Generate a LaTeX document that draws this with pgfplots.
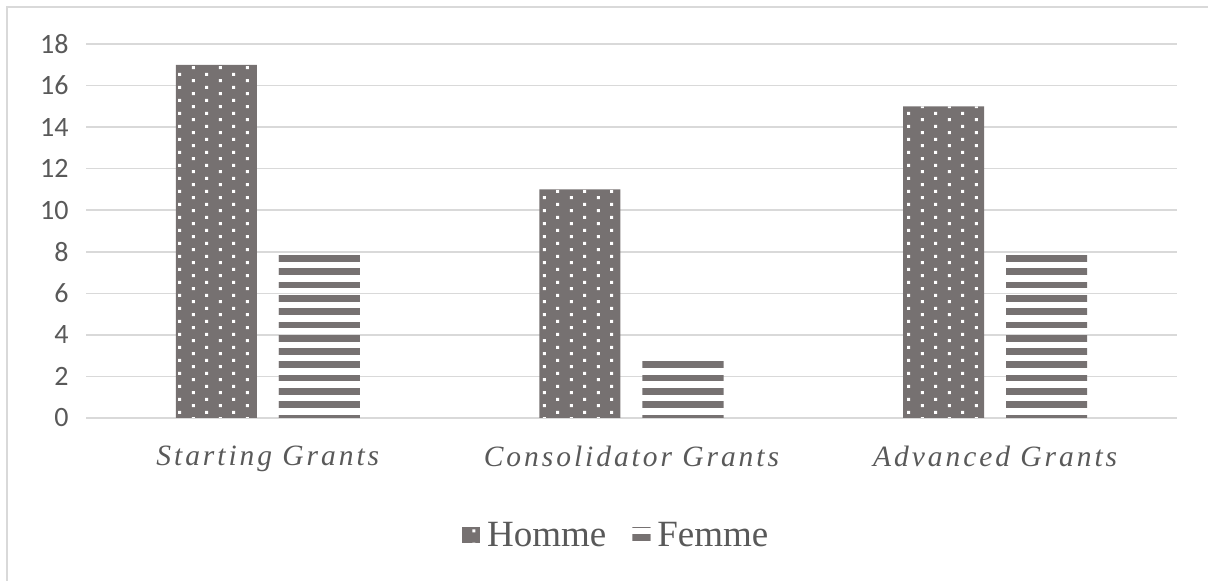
\documentclass[border=0pt]{standalone}
\usepackage{fontspec}
\setmainfont{Liberation Serif}
\newfontfamily\calib{Carlito}
\newfontfamily\catfont[LetterSpace=10]{Liberation Serif}
\usepackage{pgfplots}
\pgfplotsset{compat=1.18}
\usetikzlibrary{patterns.meta}
\definecolor{barg}{HTML}{767171}
\definecolor{gridc}{HTML}{D9D9D9}
\definecolor{txt}{HTML}{595959}

\pgfdeclarepattern{
  name=dotgrid, type=uncolored,
  bottom left={\pgfpoint{0pt}{0pt}}, top right={\pgfpoint{26.7pt}{13.3pt}},
  tile size={\pgfpoint{26.7pt}{13.3pt}},
  code={
    \pgfpathrectangle{\pgfpoint{5pt}{2pt}}{\pgfpoint{3pt}{3pt}}
    \pgfpathrectangle{\pgfpoint{18.35pt}{8.65pt}}{\pgfpoint{3pt}{3pt}}
    \pgfusepath{fill}
  }}
\pgfdeclarepattern{
  name=hstripes, type=uncolored,
  bottom left={\pgfpoint{-2pt}{0pt}}, top right={\pgfpoint{12pt}{13.3pt}},
  tile size={\pgfpoint{10pt}{13.3pt}},
  code={
    \pgfpathrectangle{\pgfpoint{-2pt}{0pt}}{\pgfpoint{14pt}{6.7pt}}
    \pgfusepath{fill}
  }}

\begin{document}
\begin{tikzpicture}
\path[use as bounding box] (0,0) rectangle (1208pt,581pt);
\draw[gridc, line width=2pt] (7pt,0pt) -- (7pt,574pt) -- (1208pt,574pt);
\begin{axis}[
  at={(86pt,163pt)}, anchor=south west,
  scale only axis, width=1091pt, height=374pt,
  xmin=-0.5, xmax=2.5, ymin=0, ymax=18,
  ytick={0,2,...,18},
  xtick={0,1,2},
  xticklabels={Starting Grants, Consolidator Grants, Advanced Grants},
  ymajorgrids,
  grid style={color=gridc, line width=1.5pt},
  axis x line*=bottom, axis y line*=left,
  x axis line style={draw=gridc, line width=1.5pt},
  y axis line style={draw=none},
  major tick length=0pt,
  /pgf/number format/assume math mode=true,
  yticklabel style={font=\calib\fontsize{28}{30}\selectfont, text=txt, xshift=-14pt},
  xticklabel style={font=\catfont\itshape\fontsize{29.5}{32}\selectfont, text=txt, yshift=-24pt},
  ybar, bar width=81pt,
  legend style={draw=none, at={(0.486,-0.313)}, anchor=center, legend columns=2,
    font=\fontsize{37}{40}\selectfont, text=txt,
    /tikz/every odd column/.append style={column sep=5pt},
    /tikz/every even column/.append style={column sep=24pt}},
  legend image code/.code={\path[#1] (0pt,-8pt) rectangle (18pt,8pt);},
]
\addplot[fill=barg, draw=none, bar shift=-51.5pt, postaction={pattern=dotgrid, pattern color=white}]
  coordinates {(0,17) (1,11) (2,15)};
\addplot[draw=none, bar shift=51.5pt, pattern=hstripes, pattern color=barg]
  coordinates {(0,8) (1,3) (2,8)};
\legend{Homme, Femme}
\end{axis}
\end{tikzpicture}
\end{document}
